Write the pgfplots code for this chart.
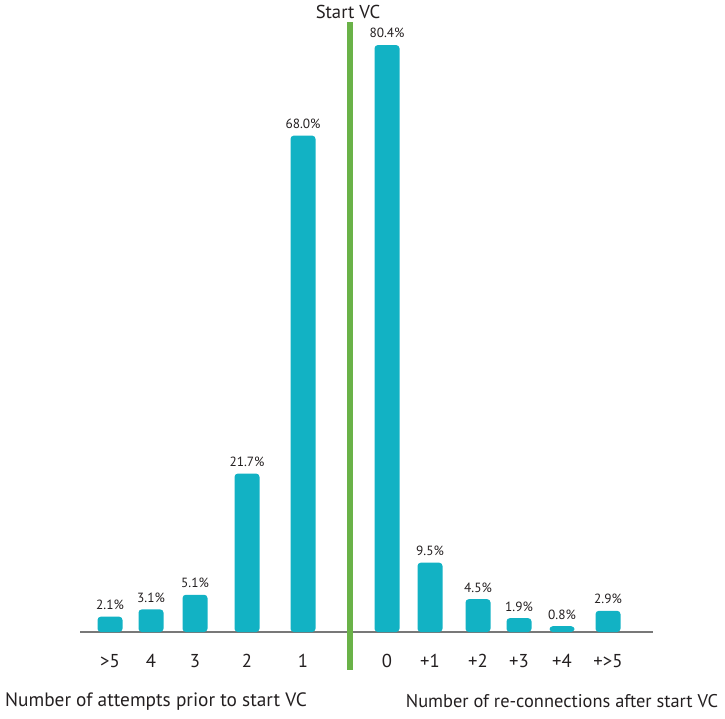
\documentclass[border=0pt]{standalone}
\usepackage{fontspec}
\setmainfont{PT Sans}
\usepackage{pgfplots}
\pgfplotsset{compat=1.18}

\definecolor{barteal}{RGB}{18,178,196}
\definecolor{vcgreen}{RGB}{106,178,72}
\definecolor{basegray}{RGB}{120,120,120}
\definecolor{txt}{RGB}{35,31,32}

% x = pixel-like positions of the categories, y = share in percent
\pgfplotstableread{
x    v
110  2.1
151  3.1
195  5.1
247  21.7
303  68.0
387  80.4
430  9.5
478  4.5
519  1.9
562  0.8
608  2.9
}\attempts

\begin{document}
\begin{tikzpicture}
\useasboundingbox (0,-64.5pt) rectangle (543.75pt,474pt);
\begin{axis}[
  at={(60pt,0pt)}, anchor=south west,
  x=0.75pt, y=5.475pt,
  xmin=80, xmax=653, ymin=0, ymax=84,
  axis x line*=bottom, axis y line=none,
  x axis line style={basegray, line width=1.2pt, -},
  ybar, bar width=25,
  clip=false,
  xtick=data,
  xticklabels={>5,4,3,2,1,0,+1,+2,+3,+4,+>5},
  major tick length=0pt,
  xticklabel style={font=\fontsize{14}{14}\selectfont, text=txt, yshift=-13pt},
  nodes near coords={\pgfmathprintnumber[fixed,fixed zerofill,precision=1,assume math mode=true]{\pgfplotspointmeta}\%},
  nodes near coords style={font=\fontsize{10}{11}\selectfont, text=txt, inner sep=1pt, yshift=4pt},
]
\addplot[fill=barteal, draw=none, rounded corners=2.5pt] table[x=x, y=v] {\attempts};
\draw[vcgreen, line width=4pt] (axis cs:350,-5.2) -- (axis cs:350,83.6);
\node[font=\fontsize{14}{15}\selectfont, text=txt] at (axis cs:348,84.9) {Start VC};
\node[font=\fontsize{14.5}{15}\selectfont, text=txt] at (axis cs:156,-9.5) {Number of attempts prior to start VC};
\node[font=\fontsize{13.8}{15}\selectfont, text=txt] at (axis cs:562,-9.5) {Number of re-connections after start VC};
\end{axis}
\end{tikzpicture}
\end{document}
